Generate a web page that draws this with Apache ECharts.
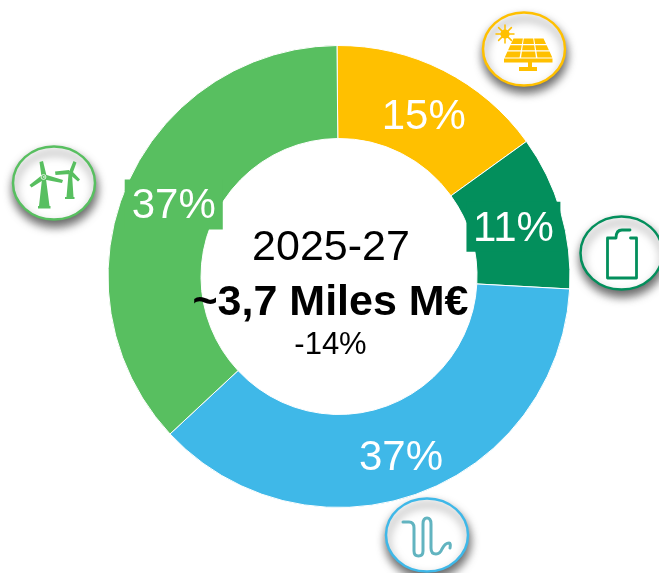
<!DOCTYPE html>
<html>
<head>
<meta charset="utf-8">
<script src="https://cdn.jsdelivr.net/npm/echarts@6/dist/echarts.min.js"></script>
<style>html,body{margin:0;padding:0;background:#fff}#c{width:659px;height:573px}</style>
</head>
<body>
<div id="c"></div>
<script>
const categories = ['Solar', 'Battery', 'Hydro', 'Wind'];
const shares = [15.2, 10.8, 37.2, 36.8];
const sliceColors = ['#FFC000', '#038F5C', '#3FB8E8', '#58BF60'];
const centerLines = ['2025-27', '~3,7 Miles M€', '-14%'];

const font = '"Liberation Sans", Arial, sans-serif';
const chart = echarts.init(document.getElementById('c'), null, {renderer: 'canvas'});

let shapeCount = 0;
function svgShape(d) {
  const name = 'iconShape' + (shapeCount++);
  echarts.graphic.registerShape(name, echarts.graphic.extendPath(d, {}));
  return name;
}
function badge(cx, cy, color) {
  return {
    type: 'ellipse', z: 5,
    shape: {cx: cx, cy: cy, rx: 41, ry: 36.5},
    style: {fill: '#fff', stroke: color, lineWidth: 2.5,
      shadowBlur: 10, shadowOffsetY: 6, shadowOffsetX: 1, shadowColor: 'rgba(0,0,0,0.6)'}
  };
}
function fillPath(d, color) {
  return {type: svgShape(d), z: 6, style: {fill: color}};
}
function strokePath(d, color, w) {
  return {type: svgShape(d), z: 6, style: {fill: 'none', stroke: color, lineWidth: w, lineCap: 'round', lineJoin: 'round'}};
}
function solarCells() {
  const yRows = [[38.5, 44], [45.3, 50.3], [51.6, 57.5]];
  const topY = 38.5, botY = 57.5, c = 528.5;
  const half = y => 15.5 + (y - topY) / (botY - topY) * 9;
  let d = '';
  yRows.forEach(r => {
    for (let i = 0; i < 3; i++) {
      const a = -1 + i * 2 / 3 + 0.03, b = -1 + (i + 1) * 2 / 3 - 0.03;
      d += 'M' + (c + a * half(r[0])) + ' ' + r[0] + 'L' + (c + b * half(r[0])) + ' ' + r[0] +
           'L' + (c + b * half(r[1])) + ' ' + r[1] + 'L' + (c + a * half(r[1])) + ' ' + r[1] + 'Z';
    }
  });
  return d;
}
const icons = [
  badge(524, 49, '#FFC000'),
  fillPath(solarCells() + 'M504 58.5H552.5V62.5H504ZM528 62.5H532V67H528ZM519 67H537V71H519Z', '#FFC000'),
  {type: 'circle', z: 6, shape: {cx: 505, cy: 34, r: 4.6}, style: {fill: '#FFC000'}},
  strokePath('M505 25V43M496 34H514M498.6 27.6L511.4 40.4M511.4 27.6L498.6 40.4', '#FFC000', 1.5),

  badge(54, 183, '#58BF60'),
  fillPath('M42 179H46L49.5 206H39ZM38 206H50.5V208.5H38ZM68.5 174H72L73.5 197H66.5ZM65 197H74.5V199H65Z', '#58BF60'),
  fillPath('M39.5 162L43 161L46.5 175.5L41.5 177ZM45 174.5L63 180L62 183L44 179.5ZM41.5 175.5L45 179L31.5 187.5L29.5 185ZM73.5 161L76.5 162.5L72.5 173.5L69 172ZM55 171.5L69 170L70 174L55.5 175ZM71.5 170.5L80 179.5L78 181.5L68.5 173.5Z', '#58BF60'),
  {type: 'circle', z: 7, shape: {cx: 43.5, cy: 177, r: 2.4}, style: {fill: 'none', stroke: '#fff', lineWidth: 0.8}},

  badge(621.5, 253, '#038F5C'),
  strokePath('M616 238H607.5V278H636.5V238H630.5M616 238Q616 230 622 230H630', '#038F5C', 2.8),

  badge(427, 535, '#3FB8E8'),
  strokePath('M403 522H409Q414 522 414 528V551Q414 556 418.5 556Q423 556 423 551V524Q423 518 427 518Q431 518 431 524V548Q431 554 436 554Q440 554 442 549Q445 543 449 543Q451 543 450 548', '#62B4C0', 3)
];
const centerText = [
  {type: 'text', z: 8, x: 331, y: 248.5, style: {text: centerLines[0], font: '43px ' + font, fill: '#000', align: 'center', verticalAlign: 'middle'}},
  {type: 'text', z: 8, x: 330.5, y: 303, style: {text: centerLines[1], font: 'bold 43px ' + font, fill: '#000', align: 'center', verticalAlign: 'middle'}},
  {type: 'text', z: 8, x: 330.5, y: 345, style: {text: centerLines[2], font: '31px ' + font, fill: '#000', align: 'center', verticalAlign: 'middle'}}
];
const labelShift = [[0, 8], [-5.5, 3], [-2, 6], [7, 2]];
const labelRich = {
  plain: {color: '#fff', fontFamily: font, fontSize: 42},
  battery: {color: '#fff', fontFamily: font, fontSize: 42, lineHeight: 43,
    backgroundColor: sliceColors[1], padding: [6.5, 6.5, 1.5, 6.5]},
  wind: {color: '#fff', fontFamily: font, fontSize: 42, lineHeight: 43,
    backgroundColor: sliceColors[3], padding: [5.5, 7, 2.5, 7]}
};
const labelTags = ['plain', 'battery', 'plain', 'wind'];

chart.setOption({
  animation: false,
  backgroundColor: '#fff',
  series: [{
    type: 'pie',
    center: [339, 276.5],
    radius: [138, 231],
    startAngle: 90.5,
    clockwise: true,
    silent: true,
    itemStyle: {borderColor: '#fff', borderWidth: 1},
    label: {
      show: true, position: 'inside', color: '#fff', fontFamily: font, fontSize: 42,
      formatter: p => '{' + labelTags[p.dataIndex] + '|' + Math.round(p.value) + '%}',
      rich: labelRich
    },
    labelLine: {show: false},
    labelLayout: p => ({dx: labelShift[p.dataIndex][0], dy: labelShift[p.dataIndex][1]}),
    data: categories.map((n, i) => ({
      name: n, value: shares[i],
      itemStyle: {color: sliceColors[i]}
    }))
  }],
  graphic: {elements: icons.concat(centerText)}
});
</script>
</body>
</html>
